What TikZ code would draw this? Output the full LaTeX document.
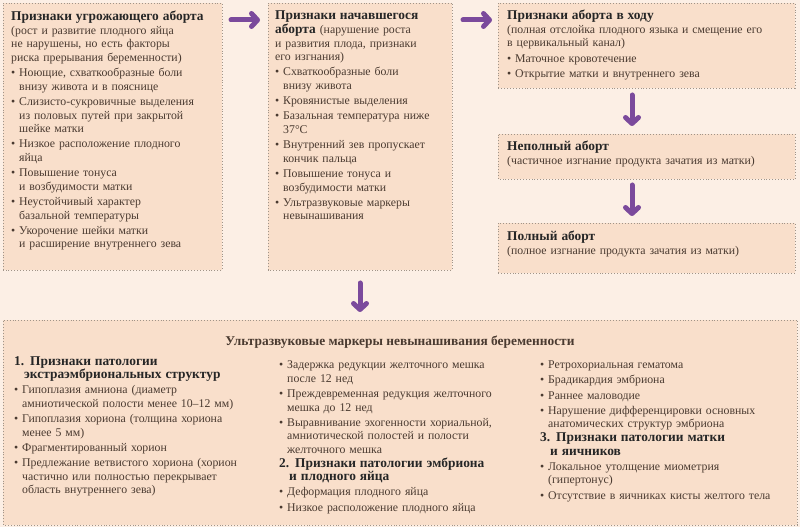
\documentclass[tikz,border=0pt]{standalone}
\usepackage{fontspec}
\setmainfont{Liberation Serif}
\usetikzlibrary{arrows.meta}
\definecolor{bg}{HTML}{FCEFE5}
\definecolor{boxc}{HTML}{F9DFCB}
\definecolor{bord}{HTML}{A09488}
\definecolor{txt}{HTML}{4A3A30}
\definecolor{purp}{HTML}{7B4A9C}
\newcommand\itm[1]{\par\vspace{1.6pt}\noindent\hangindent=8pt\hangafter=1\makebox[8pt][l]{\textbullet}#1\par}
\newcommand\hd[1]{{\fontsize{13.4}{13.6}\selectfont\bfseries\color{black!85}#1}}
\tikzset{
 box/.style={draw=bord, fill=boxc, dotted, line width=0.9pt},
 txtn/.style={anchor=north west, inner sep=0pt, align=left, text=txt, font=\fontsize{11.8}{13.6}\selectfont},
 parr/.style={draw=purp, line width=5pt, line cap=round, -{Straight Barb[length=6pt,width=13pt,line width=5pt, round]}}
}
\begin{document}
\begin{tikzpicture}[x=1pt,y=1pt]
\fill[bg] (0,0) rectangle (800,527);
\useasboundingbox (0,0) rectangle (800,527);
\draw[box] (3,257) rectangle (222,524);
\draw[box] (268,257) rectangle (452,524);
\draw[box] (498,439) rectangle (795,524);
\draw[box] (498,348) rectangle (795,393);
\draw[box] (498,254) rectangle (795,304);
\draw[box] (3,2) rectangle (797,207);
\node[txtn, text width=212pt] (t1) at (11,516) {\hd{Признаки угрожающего аборта}\newline
(рост и развитие плодного яйца\newline не нарушены, но есть факторы\newline риска прерывания беременности)
\itm{Ноющие, схваткообразные боли\newline внизу живота и в пояснице}
\itm{Слизисто-сукровичные выделения\newline из половых путей при закрытой\newline шейке матки}
\itm{Низкое расположение плодного\newline яйца}
\itm{Повышение тонуса\newline и возбудимости матки}
\itm{Неустойчивый характер\newline базальной температуры}
\itm{Укорочение шейки матки\newline и расширение внутреннего зева}};
\node[txtn, text width=180pt] (t2) at (275,516) {\hd{Признаки начавшегося}\newline
\hd{аборта} (нарушение роста\newline и развития плода, признаки\newline его изгнания)
\itm{Схваткообразные боли\newline внизу живота}
\itm{Кровянистые выделения}
\itm{Базальная температура ниже\newline 37°C}
\itm{Внутренний зев пропускает\newline кончик пальца}
\itm{Повышение тонуса и\newline возбудимости матки}
\itm{Ультразвуковые маркеры\newline невынашивания}};
\node[txtn, text width=288pt] (t3) at (507,517) {\hd{Признаки аборта в ходу}\newline
(полная отслойка плодного языка и смещение его\newline в цервикальный канал)
\itm{Маточное кровотечение}
\itm{Открытие матки и внутреннего зева}};
\node[txtn, text width=288pt] (t4) at (507,386) {\hd{Неполный аборт}\newline (частичное изгнание продукта зачатия из матки)};
\node[txtn, text width=288pt] (t5) at (507,296) {\hd{Полный аборт}\newline (полное изгнание продукта зачатия из матки)};
\node[anchor=center, text=txt, font=\fontsize{13.4}{13.6}\selectfont\bfseries] (t6) at (400,185) {Ультразвуковые маркеры невынашивания беременности};
\node[txtn, text width=262pt] (c1) at (14,171) {\hd{1. Признаки патологии}\newline \hspace*{10pt}\hd{экстраэмбриональных структур}
\itm{Гипоплазия амниона (диаметр\newline амниотической полости менее 10–12 мм)}
\itm{Гипоплазия хориона (толщина хориона\newline менее 5 мм)}
\itm{Фрагментированный хорион}
\itm{Предлежание ветвистого хориона (хорион\newline частично или полностью перекрывает\newline область внутреннего зева)}};
\node[txtn, text width=262pt] (c2) at (279,172) {\vspace*{-1.6pt}
\itm{Задержка редукции желточного мешка\newline после 12 нед}
\itm{Преждевременная редукция желточного\newline мешка до 12 нед}
\itm{Выравнивание эхогенности хориальной,\newline амниотической полостей и полости\newline желточного мешка}
\noindent\hd{2. Признаки патологии эмбриона}\newline \hspace*{10pt}\hd{и плодного яйца}
\itm{Деформация плодного яйца}
\itm{Низкое расположение плодного яйца}};
\node[txtn, text width=258pt] (c3) at (540,172) {\vspace*{-1.6pt}
\itm{Ретрохориальная гематома}
\itm{Брадикардия эмбриона}
\itm{Раннее маловодие}
\itm{Нарушение дифференцировки основных\newline анатомических структур эмбриона}
\noindent\hd{3. Признаки патологии матки}\newline \hspace*{10pt}\hd{и яичников}
\itm{Локальное утолщение миометрия\newline (гипертонус)}
\itm{Отсутствие в яичниках кисты желтого тела}};
\coordinate (a1s) at (231,507); \coordinate (a1e) at (260,507);
\coordinate (a2s) at (463,507); \coordinate (a2e) at (492,507);
\coordinate (a3s) at (632,432); \coordinate (a3e) at (632,401);
\coordinate (a4s) at (632,342); \coordinate (a4e) at (632,311);
\coordinate (a5s) at (360,244); \coordinate (a5e) at (360,215);
\draw[parr] (a1s) -- (a1e);
\draw[parr] (a2s) -- (a2e);
\draw[parr] (a3s) -- (a3e);
\draw[parr] (a4s) -- (a4e);
\draw[parr] (a5s) -- (a5e);
\end{tikzpicture}
\end{document}
